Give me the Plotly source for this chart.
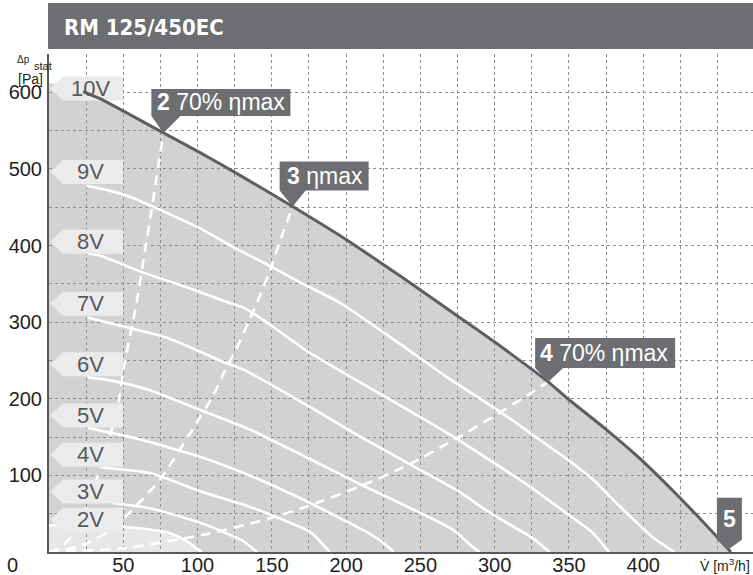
import plotly.graph_objects as go

# ---------------- data ----------------
# max curve (10V)
v10_x = [0, 23, 34, 77, 102, 130, 164, 195, 226, 250, 275, 300, 336, 348, 375, 400, 420, 438, 459]
v10_y = [612, 601, 592, 547, 521, 490, 451, 414, 374, 342, 308, 274, 222, 202, 160, 118, 80, 44, 0]

v9_x = [25, 40, 54, 80, 102, 124, 150, 169, 196, 236, 268, 292, 312, 324, 348, 366, 384, 406, 421]
v9_y = [478, 472, 464, 442, 422, 398, 372, 352, 325, 272, 228, 198, 172, 155, 122, 95, 60, 20, 0]

v8_x = [26, 34, 63, 98, 120, 132, 150, 173, 200, 250, 275, 299, 324, 348, 366, 377]
v8_y = [390, 387, 365, 342, 326, 318, 295, 263, 232, 176, 147, 117, 85, 51, 25, 0]

v7_x = [26, 53, 79, 100, 115, 132, 175, 210, 250, 275, 297, 324, 337]
v7_y = [306, 293, 280, 263, 250, 237, 190, 150, 107, 80, 51, 20, 0]

v6_x = [26, 41, 65, 101, 135, 175, 210, 250, 272, 285, 290]
v6_y = [228, 224, 213, 186, 160, 122, 88, 51, 29, 7, 0]

v5_x = [26, 57, 102, 135, 165, 195, 215, 225, 232]
v5_y = [162, 149, 124, 100, 74, 45, 25, 12, 0]

v4_x = [36, 68, 102, 135, 160, 176, 189]
v4_y = [110, 103, 79, 59, 40, 26, 0]

v3_x = [43, 68, 102, 120, 131, 140]
v3_y = [64, 57, 38, 24, 14, 0]

v2_x = [0, 50, 79, 92, 103]
v2_y = [35, 33, 26, 15, 0]

# system lines (dashed)
d2_x = [0, 7, 15, 25, 35, 43, 47, 51, 58, 65, 69, 77]
d2_y = [0, 5, 20, 57, 112, 165, 198, 248, 315, 398, 446, 547]
d3_x = [0, 9, 25, 42, 53, 75, 96, 102, 110, 118, 125, 137, 149, 155, 164]
d3_y = [0, 2, 11, 29, 49, 95, 158, 177, 202, 235, 261, 312, 368, 403, 451]
d4_x = [0, 51, 108, 147, 176, 211, 241, 275, 301, 336]
d4_y = [0, 5, 24, 43, 61, 87, 113, 149, 179, 222]

volt_labels = ["10V", "9V", "8V", "7V", "6V", "5V", "4V", "3V", "2V"]
volt_label_y = [605, 496, 405, 324, 245, 178, 127, 79, 42]

callout_text = ["<b>2</b> 70% ηmax", "<b>3</b> ηmax", "<b>4</b> 70% ηmax", "<b>5</b>"]
callout_x = [77, 164, 336, 457]
callout_y = [547, 451, 222, 3]

x_tickvals = [50, 100, 150, 200, 250, 300, 350, 400]
x_ticktext = ["50", "100", "150", "200", "250", "300", "350", "400"]
x_minor_vals = [25, 75, 125, 175, 225, 275, 325, 375, 425, 450]
y_tickvals = [100, 200, 300, 400, 500, 600]
y_ticktext = ["100", "200", "300", "400", "500", "600"]
y_minor_vals = [50, 150, 250, 350, 450, 550, 650]

# ---------------- style ----------------
GRAY_FILL = "#d1d2d4"
LIGHT_FILL = "#e7e7e8"
LABEL_FILL = "#ebebec"
DARK = "#6d6e71"
LINE_DARK = "#5d5e61"
TXT = "#231f20"
GRID = "#8e8f91"
FONT = "Liberation Sans, Arial, Helvetica, sans-serif"

X_RANGE = [0, 473.9]
Y_RANGE = [0, 650]

fig = go.Figure()

# --- subplot 1: fills ---
fig.add_trace(go.Scatter(x=v10_x, y=v10_y, mode="lines", fill="tozeroy",
                         fillcolor=GRAY_FILL, line=dict(width=0, shape="spline", smoothing=0.6),
                         xaxis="x", yaxis="y", hoverinfo="skip", showlegend=False))
fig.add_trace(go.Scatter(x=v2_x, y=v2_y, mode="lines", fill="tozeroy",
                         fillcolor=LIGHT_FILL, line=dict(width=0, shape="spline", smoothing=0.6),
                         xaxis="x", yaxis="y", hoverinfo="skip", showlegend=False))

# --- subplot 2: lines on top of grid ---
for xs, ys in [(v9_x, v9_y), (v8_x, v8_y), (v7_x, v7_y), (v6_x, v6_y), (v5_x, v5_y),
               (v4_x, v4_y), (v3_x, v3_y), (v2_x, v2_y)]:
    fig.add_trace(go.Scatter(x=xs, y=ys, mode="lines",
                             line=dict(color="white", width=2.6, shape="spline", smoothing=0.6),
                             xaxis="x2", yaxis="y2", hoverinfo="skip", showlegend=False))
for xs, ys in [(d2_x, d2_y), (d3_x, d3_y), (d4_x, d4_y)]:
    fig.add_trace(go.Scatter(x=xs, y=ys, mode="lines",
                             line=dict(color="white", width=2.6, dash="10px,7px",
                                       shape="spline", smoothing=0.6),
                             xaxis="x2", yaxis="y2", hoverinfo="skip", showlegend=False))
fig.add_trace(go.Scatter(x=v10_x[1:], y=v10_y[1:], mode="lines",
                         line=dict(color=LINE_DARK, width=3, shape="spline", smoothing=0.6),
                         xaxis="x2", yaxis="y2", hoverinfo="skip", showlegend=False))

shapes = []
annotations = []

# voltage labels (arrow boxes)
for i, (t, yc) in enumerate(zip(volt_labels, volt_label_y)):
    shapes.append(dict(type="path", xref="x2", yref="y2",
                       xsizemode="pixel", ysizemode="pixel", xanchor=0, yanchor=yc,
                       path="M 1,0 L 14,12 L 74,12 L 74,-12 L 14,-12 Z",
                       fillcolor=LABEL_FILL, line=dict(width=0),
                       layer="between" if i == 0 else "above"))
    annotations.append(dict(x=0, y=yc, xref="x2", yref="y2", text=t, showarrow=False,
                            xanchor="center", yanchor="middle", xshift=41, yshift=0,
                            font=dict(family=FONT, size=22, color="#58595b")))

# callouts
geo = [
    dict(l=-12, r=127, b=17, t=44, pr=17, tx=-8),
    dict(l=-13, r=76, b=16, t=45, pr=13, tx=-8),
    dict(l=-13, r=127, b=14, t=44, pr=15, tx=-10),
    dict(l=-11, r=14, b=10, t=52, pr=14, tx=None),
]
for txt, cx, cy, g in zip(callout_text, callout_x, callout_y, geo):
    if g["tx"] is None:
        path = f"M {g['l']},{g['t']} L {g['r']},{g['t']} L {g['r']},{g['b']} L 0,0 L {g['l']},{g['b']} Z"
    else:
        path = (f"M {g['l']},{g['t']} L {g['r']},{g['t']} L {g['r']},{g['b']} "
                f"L {g['pr']},{g['b']} L 0,0 L {g['l']},{g['b']} Z")
    shapes.append(dict(type="path", xref="x2", yref="y2",
                       xsizemode="pixel", ysizemode="pixel", xanchor=cx, yanchor=cy,
                       path=path, fillcolor=DARK, line=dict(width=0), layer="above"))
    if g["tx"] is None:
        annotations.append(dict(x=cx, y=cy, xref="x2", yref="y2", text=txt, showarrow=False,
                                xanchor="center", yanchor="middle",
                                xshift=(g["l"] + g["r"]) / 2, yshift=(g["b"] + g["t"]) / 2,
                                font=dict(family=FONT, size=23, color="white")))
    else:
        annotations.append(dict(x=cx, y=cy, xref="x2", yref="y2", text=txt, showarrow=False,
                                xanchor="left", yanchor="middle",
                                xshift=g["tx"], yshift=(g["b"] + g["t"]) / 2,
                                font=dict(family=FONT, size=23, color="white")))

# title bar
shapes.append(dict(type="rect", xref="paper", yref="paper", x0=-0.0014, x1=1.0,
                   y0=1.0100, y1=1.1024, fillcolor=DARK, line=dict(width=0), layer="above"))
annotations.append(dict(xref="paper", yref="paper", x=0.019, y=1.054, xanchor="left",
                        yanchor="middle", showarrow=False, text="<b>RM 125/450EC</b>",
                        font=dict(family="Liberation Sans Narrow, DejaVu Sans Condensed, Arial Narrow, sans-serif",
                                  size=22, color="white")))

# axis titles
annotations.append(dict(x=0, y=0, xref="x2", yref="y2", text="0", showarrow=False,
                        xanchor="center", yanchor="middle", xshift=-37, yshift=-13,
                        font=dict(family=FONT, size=20, color=TXT)))
annotations.append(dict(xref="paper", yref="paper", x=-0.0241, y=1.0, xanchor="right",
                        yanchor="middle", showarrow=False, text="Δp", yshift=-5,
                        font=dict(family=FONT, size=10, color=TXT)))
annotations.append(dict(xref="paper", yref="paper", x=-0.0235, y=1.0, xanchor="left",
                        yanchor="middle", showarrow=False, text="stat", yshift=-12,
                        font=dict(family=FONT, size=11, color=TXT)))
annotations.append(dict(xref="paper", yref="paper", x=-0.0057, y=1.0, xanchor="right",
                        yanchor="middle", showarrow=False, text="[Pa]", yshift=-25,
                        font=dict(family=FONT, size=14, color=TXT)))
annotations.append(dict(xref="paper", yref="paper", x=1.0, y=0.0, xanchor="right",
                        yanchor="middle", showarrow=False, text="V̇ [m<sup>3</sup>/h]",
                        yshift=-13, xshift=-1,
                        font=dict(family=FONT, size=14, color=TXT)))

fig.update_layout(
    width=753, height=575,
    margin=dict(l=49, r=0, t=54, b=23, autoexpand=False),
    paper_bgcolor="white", plot_bgcolor="rgba(0,0,0,0)",
    showlegend=False,
    xaxis=dict(domain=[0, 1], range=X_RANGE, anchor="y", showgrid=False, zeroline=False,
               showticklabels=False, showline=False, ticks=""),
    yaxis=dict(domain=[0, 1], range=Y_RANGE, anchor="x", showgrid=False, zeroline=False,
               showticklabels=False, showline=False, ticks=""),
    xaxis2=dict(domain=[0, 1], range=X_RANGE, anchor="y2", showgrid=True, gridcolor=GRID,
                gridwidth=1, griddash="dot", zeroline=False, tickmode="array",
                tickvals=x_tickvals, ticktext=x_ticktext, ticks="", showline=True,
                linecolor="#58595b", linewidth=2, ticklabelstandoff=-6,
                minor=dict(tickmode="array", tickvals=x_minor_vals, showgrid=True,
                           gridcolor=GRID, gridwidth=1, griddash="dot", ticks=""),
                tickfont=dict(family=FONT, size=20, color=TXT)),
    yaxis2=dict(domain=[0, 1], range=Y_RANGE, anchor="x2", showgrid=True, gridcolor=GRID,
                gridwidth=1, griddash="dot", zeroline=False, tickmode="array",
                tickvals=y_tickvals, ticktext=y_ticktext, ticks="", showline=True,
                linecolor="#58595b", linewidth=2, ticklabelstandoff=1,
                minor=dict(tickmode="array", tickvals=y_minor_vals, showgrid=True,
                           gridcolor=GRID, gridwidth=1, griddash="dot", ticks=""),
                tickfont=dict(family=FONT, size=20, color=TXT)),
    shapes=shapes,
    annotations=annotations,
)

fig.write_html("out.html", config={"displayModeBar": False},
               post_script="document.body.style.margin='0px';document.body.style.overflow='hidden';")
